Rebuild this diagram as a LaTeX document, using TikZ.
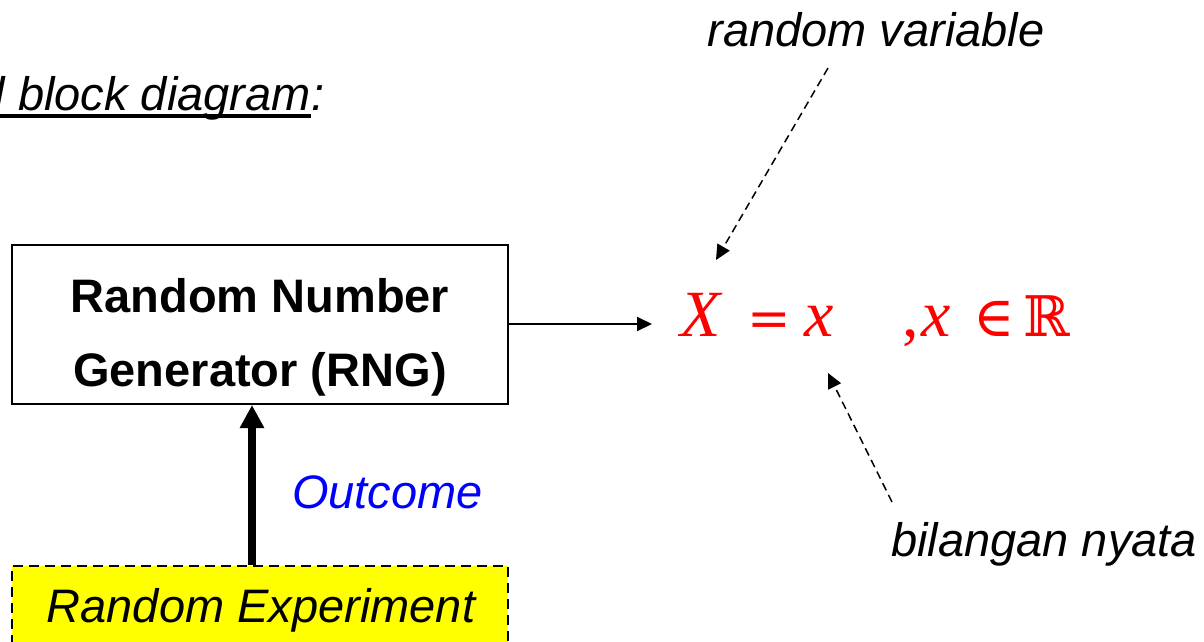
\documentclass[tikz,border=0pt]{standalone}
\usepackage{fontspec}
\setmainfont{Liberation Sans}
\newfontfamily\lserif{Liberation Serif}
\newfontfamily\dvserif{DejaVu Serif}
\usetikzlibrary{arrows.meta}
\definecolor{ryellow}{RGB}{255,255,0}
\definecolor{rred}{RGB}{255,0,0}
\definecolor{rblue}{RGB}{0,0,255}
\begin{document}
\begin{tikzpicture}[x=1pt,y=-1pt,
  txt/.style={inner sep=0, anchor=base, font=\fontsize{47}{56}\selectfont},
  itxt/.style={txt, font=\fontsize{47}{56}\selectfont\itshape},
  btxt/.style={txt, font=\fontsize{47}{56}\selectfont\bfseries},
  blockbox/.style={draw, line width=2pt, inner sep=0, minimum width=496pt},
  expbox/.style={draw, fill=ryellow, line width=2pt, dash pattern=on 10pt off 6pt, inner sep=0, minimum width=496pt},
  dasharrow/.style={line width=1.5pt, dash pattern=on 8pt off 5pt, -{Triangle[length=15pt,width=14pt]}},
]
\useasboundingbox (0,0) rectangle (1204,641);

% header
\node[itxt, anchor=base west] (hdr) at (-5.5,110) {l block diagram};
\node[itxt, anchor=base west] (colon) at (hdr.base east) {:};
\draw[line width=4pt] ([yshift=-6pt]hdr.base west) -- ([yshift=-6pt]hdr.base east);

% RNG block
\node[blockbox, minimum height=159pt] (rng) at (260,324.5) {};
\node[btxt] (rng1) at (260,312) {Random Number};
\node[btxt] (rng2) at (260,386) {Generator (RNG)};

% Random experiment
\node[expbox, minimum height=91pt, anchor=north] (exp) at (260,565) {};
\node[itxt] (expt) at (261,622) {Random Experiment};

% outcome arrow
\draw[line width=8pt, -{Triangle[length=23pt,width=23pt]}] ([xshift=-8pt]exp.north) -- ([xshift=-8pt]rng.south);
\node[itxt, anchor=base west, text=rblue] (out) at (292,508) {Outcome};

% equation
\node[inner sep=0, anchor=base west, text=rred] (eq) at (680,336) {%
  \fontsize{66}{70}\selectfont
  \rlap{\lserif\itshape X}%
  \rlap{\hspace*{67pt}\dvserif\fontsize{52}{60}\selectfont =}%
  \rlap{\hspace*{124pt}\lserif\itshape x}%
  \rlap{\hspace*{222pt}\lserif ,}%
  \rlap{\hspace*{241pt}\lserif\itshape x}%
  \rlap{\hspace*{293pt}\dvserif\fontsize{56}{60}\selectfont ∈}%
  \rlap{\hspace*{343pt}\dvserif\fontsize{56}{60}\selectfont ℝ}%
  \hspace*{390pt}};

\coordinate (tipA) at (652,324);
\draw[line width=2pt, -{Triangle[length=15pt,width=14pt]}] (rng.east |- tipA) -- (tipA);

% labels
\node[itxt] (rv) at (876,46) {random variable};
\node[itxt, anchor=base west] (bn) at (891,556) {bilangan nyata};

\coordinate (d1s) at (828,68);
\coordinate (d1e) at (716,260);
\draw[dasharrow] (d1s) -- (d1e);
\coordinate (d2s) at (892,502);
\coordinate (d2e) at (828,373);
\draw[dasharrow] (d2s) -- (d2e);
\end{tikzpicture}
\end{document}
